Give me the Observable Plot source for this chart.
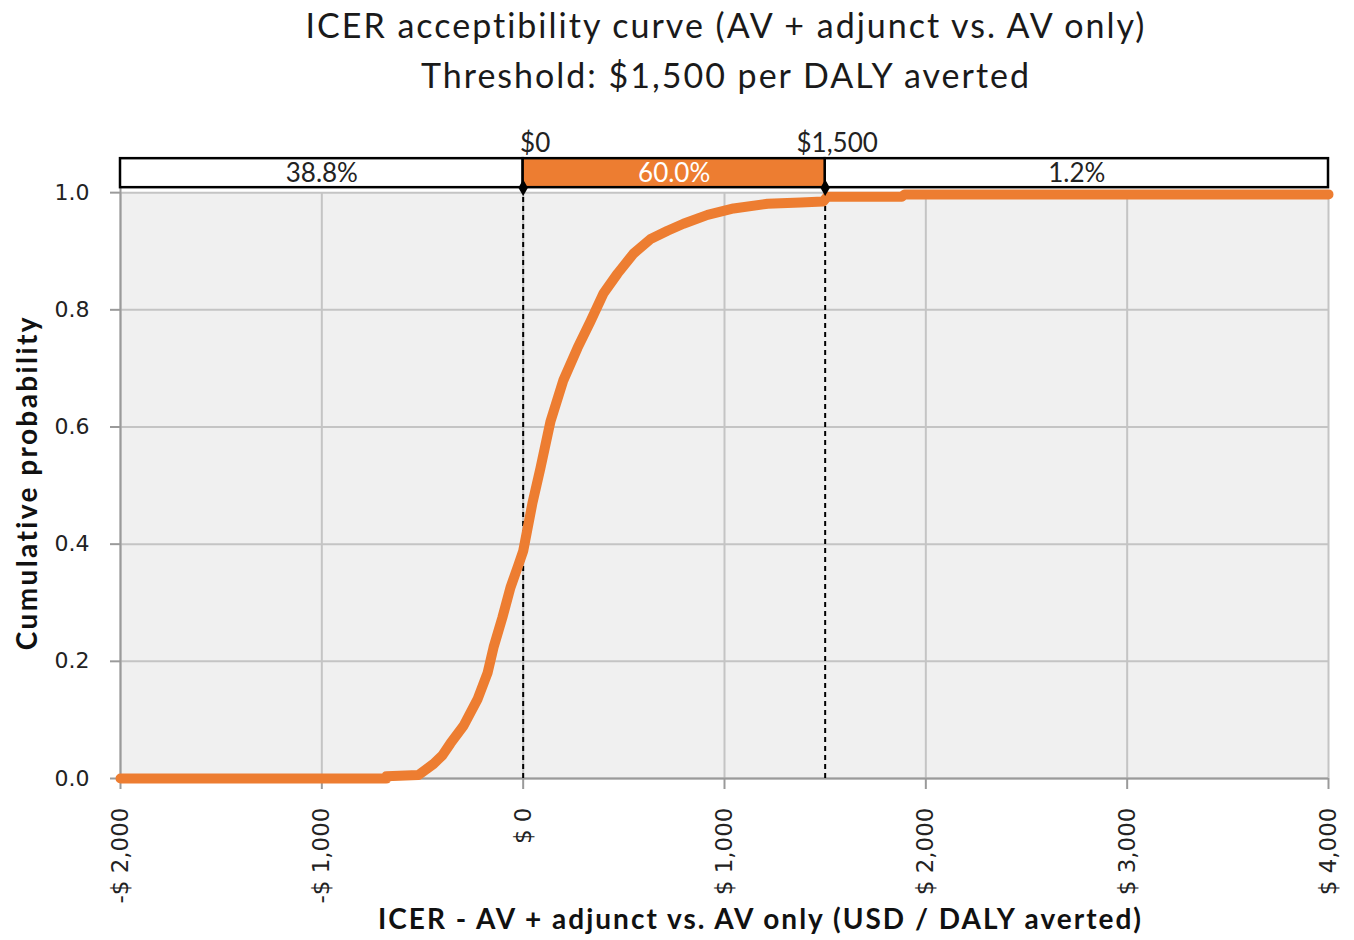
<!DOCTYPE html>
<html>
<head>
<meta charset="utf-8">
<script src="https://cdn.jsdelivr.net/npm/d3@7"></script>
<script src="https://cdn.jsdelivr.net/npm/@observablehq/plot@0.6"></script>
<style>
  body { margin: 0; background: white; }
  #title { height: 100px; width: 1354px; font-family: Lato, "Open Sans", sans-serif; color: #1a1a1a;
           font-size: 34px; letter-spacing: 2px; text-align: center; padding-left: 98px; box-sizing: border-box; }
  #title div { height: 50px; line-height: 50px; }
  #chart svg { display: block; }
</style>
</head>
<body>
<div id="title"><div>ICER acceptibility curve (AV + adjunct vs. AV only)</div><div>Threshold: $1,500 per DALY averted</div></div>
<div id="chart"></div>
<script>
// ---- data ----
const icer = [-2000, -680, -679, -520, -445, -400, -361, -296, -227, -177, -147, -103, -63, -23, 0, 46, 86, 136, 200, 270, 334, 399, 469, 548, 633, 717, 796, 916, 1045, 1214, 1378, 1490, 1510, 1880, 1895, 4000];
const cumProb = [0, 0, 0.004, 0.006, 0.025, 0.04, 0.06, 0.09, 0.135, 0.18, 0.224, 0.275, 0.326, 0.365, 0.388, 0.47, 0.53, 0.61, 0.68, 0.735, 0.78, 0.828, 0.862, 0.896, 0.921, 0.935, 0.947, 0.962, 0.973, 0.981, 0.983, 0.985, 0.993, 0.993, 0.997, 0.997];
const thresholds = [0, 1500];
const thresholdLabels = ["$0", "$1,500"];
const segStart = [-2000, 0, 1500];
const segEnd = [0, 1500, 4000];
const segLabels = ["38.8%", "60.0%", "1.2%"];
const xTicks = [-2000, -1000, 0, 1000, 2000, 3000, 4000];
const yTicks = [0, 0.2, 0.4, 0.6, 0.8, 1.0];
const xTitle = "ICER - AV + adjunct vs. AV only (USD / DALY averted)";
const yTitle = "Cumulative probability";

// ---- chart ----
const data = icer.map((x, i) => ({x, y: cumProb[i]}));
const orange = "#ED7D31";
const xmin = d3.min(xTicks), xmax = d3.max(xTicks);
const ytop = d3.max(yTicks);
const segIdx = segLabels.map((_, i) => i);
const fmtX = d => (d < 0 ? "-" : "") + "$ " + d3.format(",")(Math.abs(d));
const sansTitle = "Lato, 'Open Sans', sans-serif";

const chart = Plot.plot({
  width: 1354,
  height: 840,
  marginLeft: 120,
  marginRight: 26,
  marginTop: 57,
  marginBottom: 162,
  x: {domain: [xmin, xmax]},
  y: {domain: [0, 1.06]},
  style: {fontFamily: "'DejaVu Sans', sans-serif", fontSize: "22px", background: "white", color: "#222"},
  marks: [
    Plot.rect([0], {x1: () => xmin, x2: () => xmax, y1: () => 0, y2: () => ytop, fill: "#f0f0f0"}),
    Plot.ruleY(yTicks, {x1: () => xmin, x2: () => xmax, stroke: "#c4c4c4", strokeWidth: 2}),
    Plot.ruleX(xTicks, {y1: () => 0, y2: () => ytop, stroke: "#c4c4c4", strokeWidth: 2}),
    Plot.ruleX([xmin], {y1: () => 0, y2: () => 1.02, stroke: "#9a9a9a", strokeWidth: 2}),
    Plot.ruleY([0], {x1: () => xmin, x2: () => xmax, stroke: "#9a9a9a", strokeWidth: 2}),
    Plot.axisY(yTicks, {tickFormat: d3.format(".1f"), tickSize: 10, tickPadding: 21, stroke: "#9a9a9a", strokeWidth: 2, label: null, fontSize: 22, fill: "#222"}),
    Plot.axisX(xTicks, {tickFormat: fmtX, tickRotate: -90, tickSize: 11, tickPadding: 18, stroke: "#9a9a9a", strokeWidth: 2, label: null, fontSize: 23, fill: "#222"}),
    Plot.ruleX(thresholds, {y1: () => 0, y2: () => ytop, stroke: "black", strokeWidth: 2, strokeDasharray: "5,4"}),
    Plot.line(data, {x: "x", y: "y", stroke: orange, strokeWidth: 10}),
    Plot.rect(segIdx.filter(i => i !== 1), {x1: i => segStart[i], x2: i => segEnd[i], y1: () => 1.0085, y2: () => 1.058, fill: "white", stroke: "black", strokeWidth: 2.5}),
    Plot.rect([1], {x1: i => segStart[i], x2: i => segEnd[i], y1: () => 1.0085, y2: () => 1.058, fill: orange, stroke: "black", strokeWidth: 2.5}),
    Plot.dot(thresholds, {x: d => d, y: () => 1.0085, symbol: "diamond", fill: "black", r: 5}),
    Plot.text(segIdx.filter(i => i !== 1), {x: i => (segStart[i] + segEnd[i]) / 2, y: () => 1.032, text: i => segLabels[i], fill: "#222", fontSize: 26, fontFamily: sansTitle}),
    Plot.text([1], {x: i => (segStart[i] + segEnd[i]) / 2, y: () => 1.032, text: i => segLabels[i], fill: "white", fontSize: 26, fontFamily: sansTitle}),
    Plot.text(thresholds, {x: d => d, y: () => 1.058, dy: -15, dx: 12, text: (d, i) => thresholdLabels[i], fill: "#222", fontSize: 26, fontFamily: sansTitle}),
    Plot.text([yTitle], {frameAnchor: "left", textAnchor: "middle", y: () => 0.505, dx: -92, rotate: -90, text: d => d, fontSize: 28, fontWeight: "bold", fontFamily: sansTitle, fill: "#111"}),
    Plot.text([xTitle], {frameAnchor: "bottom", textAnchor: "middle", dx: 36, dy: 150, text: d => d, fontSize: 28, fontWeight: "bold", fontFamily: sansTitle, fill: "#111"})
  ]
});
d3.select(chart).selectAll("text").filter(function () { return this.textContent === yTitle; }).attr("letter-spacing", 2.4);
d3.select(chart).selectAll("text").filter(function () { return this.textContent === xTitle; }).attr("letter-spacing", 2);
document.getElementById("chart").appendChild(chart);
</script>
</body>
</html>
